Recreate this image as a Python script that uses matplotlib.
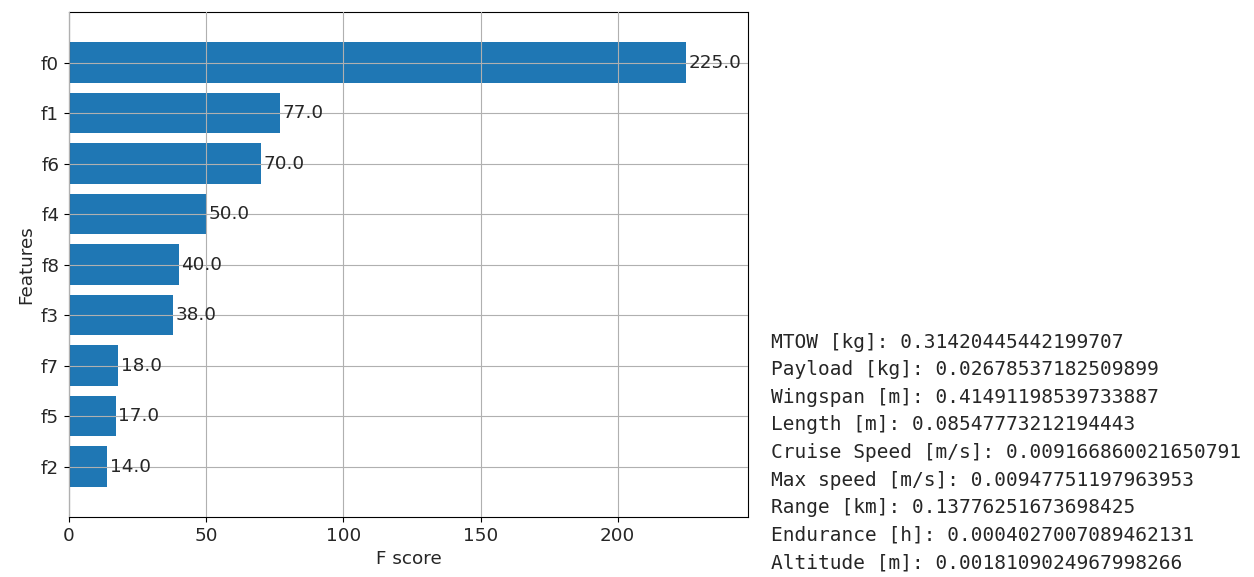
import numpy as np
import matplotlib
matplotlib.use("Agg")
import matplotlib.pyplot as plt

# feature importance (F score), sorted ascending as plotted bottom -> top
features = ['f2', 'f5', 'f7', 'f3', 'f8', 'f4', 'f6', 'f1', 'f0']
scores = [14.0, 17.0, 18.0, 38.0, 40.0, 50.0, 70.0, 77.0, 225.0]

# normalised feature weights printed next to the plot
param_names = ['MTOW [kg]', 'Payload [kg]', 'Wingspan [m]', 'Length [m]',
               'Cruise Speed [m/s]', 'Max speed [m/s]', 'Range [km]',
               'Endurance [h]', 'Altitude [m]']
param_weights = ['0.31420445442199707', '0.02678537182509899', '0.41491198539733887',
                 '0.08547773212194443', '0.009166860021650791', '0.00947751197963953',
                 '0.13776251673698425', '0.0004027007089462131', '0.0018109024967998266']

plt.rcParams['font.size'] = 13.2
plt.rcParams['text.color'] = '#262626'
plt.rcParams['axes.labelcolor'] = '#262626'
plt.rcParams['xtick.labelcolor'] = '#262626'
plt.rcParams['ytick.labelcolor'] = '#262626'

fig = plt.figure(figsize=(12.54, 5.77), dpi=100)
ax = fig.add_axes([0.055, 0.104, 0.5415, 0.875])

ylocs = np.arange(len(scores))
ax.barh(ylocs, scores, height=0.8, align='center', color='#1f77b4')
for x, y in zip(scores, ylocs):
    ax.text(x + 1, y, str(x), va='center')

ax.set_yticks(ylocs)
ax.set_yticklabels(features)
ax.set_xlim(0, max(scores) * 1.1)
ax.set_ylim(-1, len(scores))
ax.set_xlabel('F score')
ax.set_ylabel('Features')
ax.grid(True)
ax.set_axisbelow(False)

# printed weights, one per line
y0 = 1 - 342 / 577
dy = 27.6 / 577
for k, (name, w) in enumerate(zip(param_names, param_weights)):
    fig.text(0.615, y0 - k * dy, f'{name}: {w}', va='center', ha='left',
             family='DejaVu Sans Mono', fontsize=14.0, color='#262626')

fig.savefig('out.png', dpi=100)
